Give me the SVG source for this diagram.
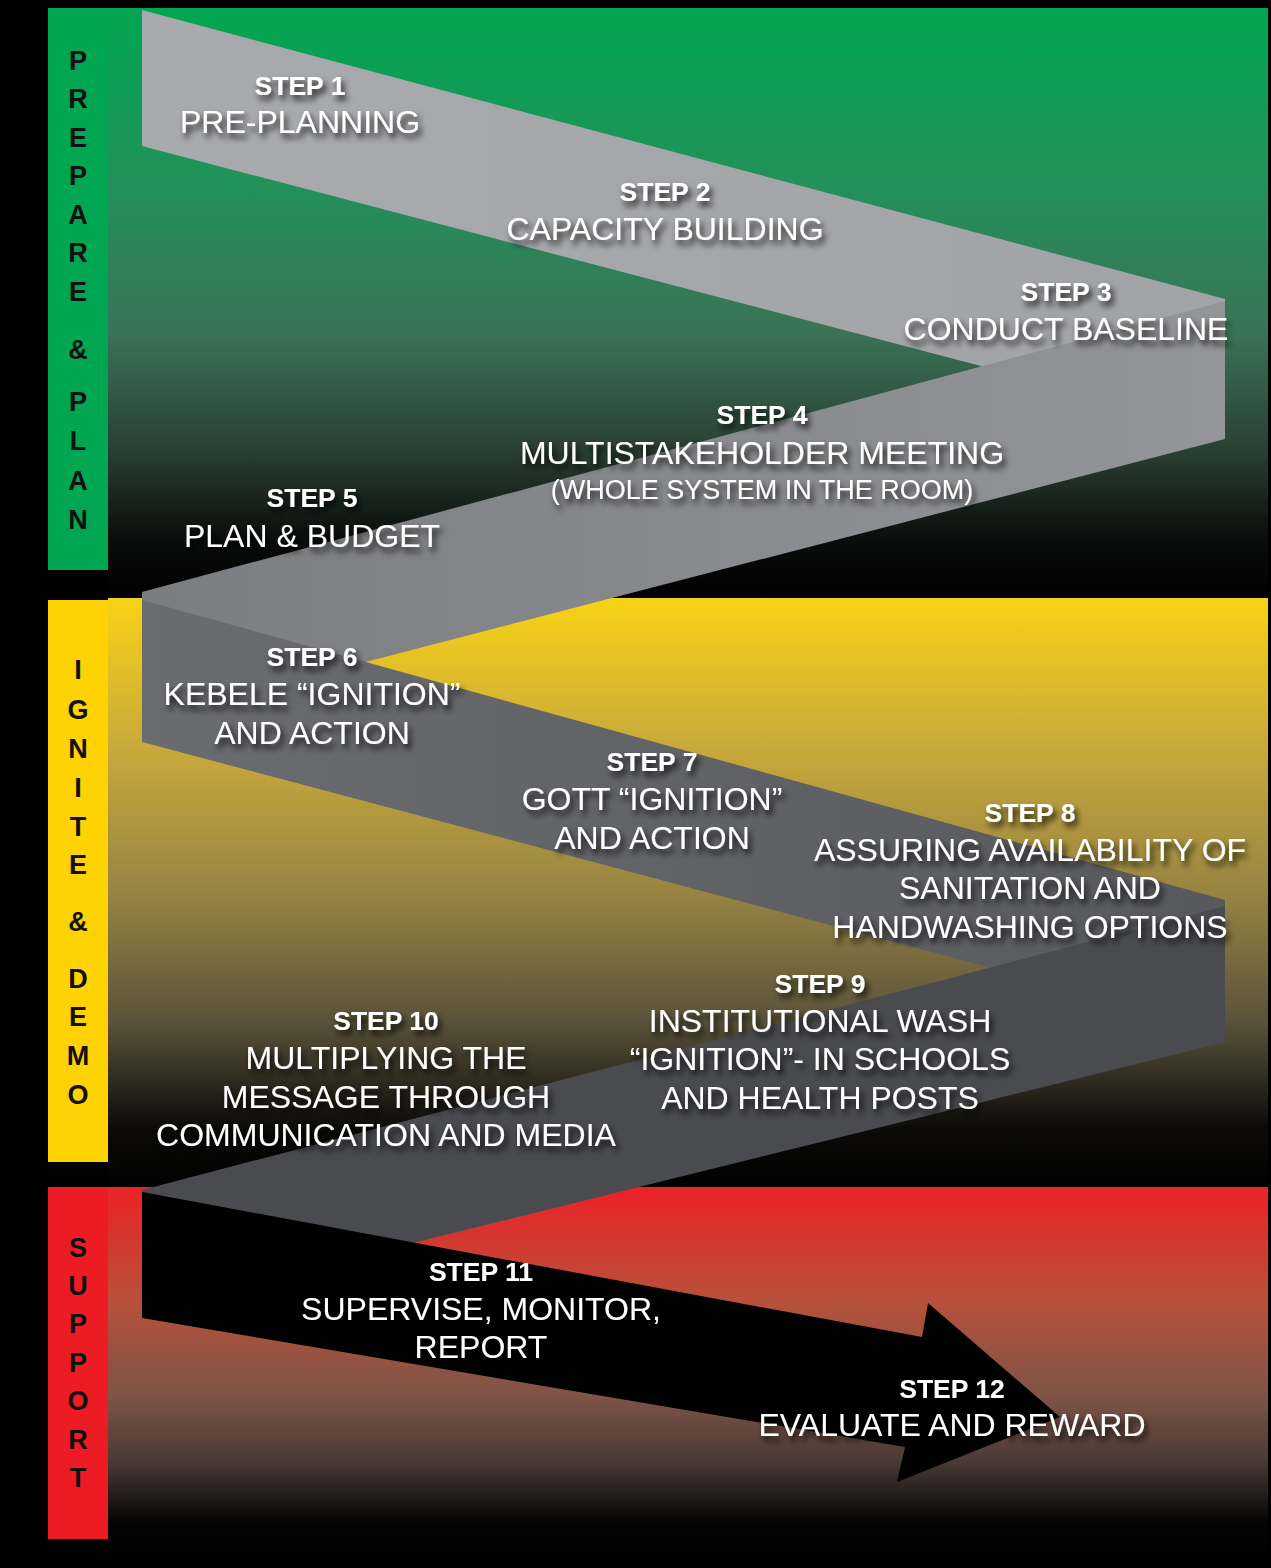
<svg xmlns="http://www.w3.org/2000/svg" width="1271" height="1568" viewBox="0 0 1271 1568">
<defs>
<linearGradient id="gG" x1="0" y1="8" x2="0" y2="598" gradientUnits="userSpaceOnUse">
<stop offset="0" stop-color="#00a651"/><stop offset="0.3" stop-color="#22915a"/><stop offset="0.55" stop-color="#3a7356"/><stop offset="0.75" stop-color="#2a3f33"/><stop offset="0.9" stop-color="#0a0d0b"/><stop offset="1" stop-color="#000"/>
</linearGradient>
<linearGradient id="gY" x1="0" y1="598" x2="0" y2="1187" gradientUnits="userSpaceOnUse">
<stop offset="0" stop-color="#f8d216"/><stop offset="0.25" stop-color="#c9aa3a"/><stop offset="0.5" stop-color="#978443"/><stop offset="0.72" stop-color="#5a523a"/><stop offset="0.9" stop-color="#0c0b09"/><stop offset="1" stop-color="#000"/>
</linearGradient>
<linearGradient id="gR" x1="0" y1="1187" x2="0" y2="1568" gradientUnits="userSpaceOnUse">
<stop offset="0" stop-color="#ec2227"/><stop offset="0.3" stop-color="#b7513b"/><stop offset="0.55" stop-color="#7e5446"/><stop offset="0.72" stop-color="#4a3a35"/><stop offset="0.88" stop-color="#050404"/><stop offset="1" stop-color="#000"/>
</linearGradient>
<linearGradient id="r1" x1="142" y1="0" x2="1225" y2="0" gradientUnits="userSpaceOnUse"><stop offset="0" stop-color="#a9aaad"/><stop offset="1" stop-color="#a2a3a6"/></linearGradient>
<linearGradient id="r2" x1="142" y1="0" x2="1225" y2="0" gradientUnits="userSpaceOnUse"><stop offset="0" stop-color="#7c7d80"/><stop offset="1" stop-color="#949598"/></linearGradient>
<linearGradient id="r3" x1="142" y1="0" x2="1225" y2="0" gradientUnits="userSpaceOnUse"><stop offset="0" stop-color="#6b6c70"/><stop offset="1" stop-color="#58595d"/></linearGradient>
<linearGradient id="r4" x1="142" y1="0" x2="1225" y2="0" gradientUnits="userSpaceOnUse"><stop offset="0" stop-color="#4a4b4f"/><stop offset="1" stop-color="#4a4b50"/></linearGradient>
<filter id="sh" x="-10%" y="-40%" width="125%" height="200%">
<feGaussianBlur in="SourceAlpha" stdDeviation="3"/><feOffset dx="3" dy="5" result="b"/>
<feFlood flood-color="#000" flood-opacity="0.85"/><feComposite in2="b" operator="in"/>
<feMerge><feMergeNode/><feMergeNode in="SourceGraphic"/></feMerge>
</filter>
<style>
.lt{font-family:"Liberation Sans",Arial,sans-serif;font-weight:bold;font-size:27px;fill:#111;text-anchor:middle}
.st{font-family:"Liberation Sans",Arial,sans-serif;font-weight:bold;font-size:26.5px;fill:#fff;text-anchor:middle}
.tx{font-family:"Liberation Sans",Arial,sans-serif;font-size:32px;fill:#fff;text-anchor:middle}
.sm{font-family:"Liberation Sans",Arial,sans-serif;font-size:27px;fill:#fff;text-anchor:middle}
.node{filter:url(#sh)}
</style>
</defs>
<rect x="0" y="0" width="1271" height="1568" fill="#000"/>
<g id="panels">
<rect x="108" y="8" width="1160" height="590" fill="url(#gG)"/>
<rect x="108" y="598" width="1160" height="589" fill="url(#gY)"/>
<rect x="108" y="1187" width="1160" height="381" fill="url(#gR)"/>
<rect x="48" y="8" width="60" height="562" fill="#00a651"/>
<rect x="48" y="600" width="60" height="562" fill="#ffd204"/>
<rect x="48" y="1187" width="60" height="352" fill="#ed1c24"/>
</g>
<g id="label-prepare-plan">
<text class="lt" x="78" y="70">P</text><text class="lt" x="78" y="108">R</text><text class="lt" x="78" y="147">E</text><text class="lt" x="78" y="185">P</text><text class="lt" x="78" y="224">A</text><text class="lt" x="78" y="262">R</text><text class="lt" x="78" y="301">E</text><text class="lt" x="78" y="359">&amp;</text><text class="lt" x="78" y="411">P</text><text class="lt" x="78" y="450">L</text><text class="lt" x="78" y="490">A</text><text class="lt" x="78" y="529">N</text>
</g>
<g id="label-ignite-demo">
<text class="lt" x="78" y="679">I</text><text class="lt" x="78" y="719">G</text><text class="lt" x="78" y="758">N</text><text class="lt" x="78" y="797">I</text><text class="lt" x="78" y="836">T</text><text class="lt" x="78" y="874">E</text><text class="lt" x="78" y="931">&amp;</text><text class="lt" x="78" y="988">D</text><text class="lt" x="78" y="1026">E</text><text class="lt" x="78" y="1065">M</text><text class="lt" x="78" y="1104">O</text>
</g>
<g id="label-support">
<text class="lt" x="78" y="1257">S</text><text class="lt" x="78" y="1295">U</text><text class="lt" x="78" y="1333">P</text><text class="lt" x="78" y="1372">P</text><text class="lt" x="78" y="1410">O</text><text class="lt" x="78" y="1449">R</text><text class="lt" x="78" y="1487">T</text>
</g>
<g id="connectors">
<polygon points="142,10 1225,299 1225,430 142,146" fill="url(#r1)"/>
<polygon points="142,592 1225,301 1225,439 142,720" fill="url(#r2)"/>
<polygon points="142,600 1225,900 1225,1030 142,742" fill="url(#r3)"/>
<polygon points="142,1190 1225,906 1225,1042 142,1310" fill="url(#r4)"/>
<polygon points="142,1192 922,1337 928,1303 1060,1417 897,1482 905,1447 142,1318" fill="#000"/>
</g>
<g id="step1" class="node"><text class="st" x="300" y="95">STEP 1</text><text class="tx" x="300" y="133">PRE-PLANNING</text></g>
<g id="step2" class="node"><text class="st" x="665" y="201">STEP 2</text><text class="tx" x="665" y="240">CAPACITY BUILDING</text></g>
<g id="step3" class="node"><text class="st" x="1066" y="301">STEP 3</text><text class="tx" x="1066" y="340">CONDUCT BASELINE</text></g>
<g id="step4" class="node"><text class="st" x="762" y="424">STEP 4</text><text class="tx" x="762" y="464">MULTISTAKEHOLDER MEETING</text><text class="sm" x="762" y="499">(WHOLE SYSTEM IN THE ROOM)</text></g>
<g id="step5" class="node"><text class="st" x="312" y="507">STEP 5</text><text class="tx" x="312" y="547">PLAN &amp; BUDGET</text></g>
<g id="step6" class="node"><text class="st" x="312" y="666">STEP 6</text><text class="tx" x="312" y="705">KEBELE “IGNITION”</text><text class="tx" x="312" y="744">AND ACTION</text></g>
<g id="step7" class="node"><text class="st" x="652" y="771">STEP 7</text><text class="tx" x="652" y="810">GOTT “IGNITION”</text><text class="tx" x="652" y="849">AND ACTION</text></g>
<g id="step8" class="node"><text class="st" x="1030" y="822">STEP 8</text><text class="tx" x="1030" y="861">ASSURING AVAILABILITY OF</text><text class="tx" x="1030" y="899">SANITATION AND</text><text class="tx" x="1030" y="938">HANDWASHING OPTIONS</text></g>
<g id="step9" class="node"><text class="st" x="820" y="993">STEP 9</text><text class="tx" x="820" y="1032">INSTITUTIONAL WASH</text><text class="tx" x="820" y="1070">“IGNITION”- IN SCHOOLS</text><text class="tx" x="820" y="1109">AND HEALTH POSTS</text></g>
<g id="step10" class="node"><text class="st" x="386" y="1030">STEP 10</text><text class="tx" x="386" y="1069">MULTIPLYING THE</text><text class="tx" x="386" y="1108">MESSAGE THROUGH</text><text class="tx" x="386" y="1146">COMMUNICATION AND MEDIA</text></g>
<g id="step11" class="node"><text class="st" x="481" y="1281">STEP 11</text><text class="tx" x="481" y="1320">SUPERVISE, MONITOR,</text><text class="tx" x="481" y="1358">REPORT</text></g>
<g id="step12" class="node"><text class="st" x="952" y="1398">STEP 12</text><text class="tx" x="952" y="1436">EVALUATE AND REWARD</text></g>
</svg>
